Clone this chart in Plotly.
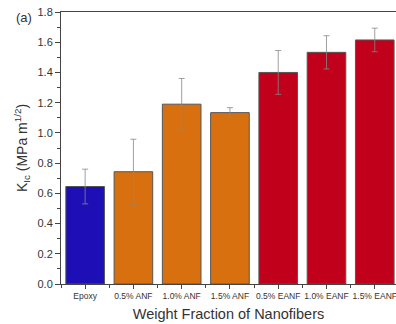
import plotly.graph_objects as go

categories = ["Epoxy", "0.5% ANF", "1.0% ANF", "1.5% ANF", "0.5% EANF", "1.0% EANF", "1.5% EANF"]
kic_values = [0.645, 0.743, 1.19, 1.134, 1.40, 1.533, 1.615]
kic_errors = [0.115, 0.215, 0.17, 0.033, 0.145, 0.11, 0.078]
bar_colors = ["#1d0fb5", "#d8700f", "#d8700f", "#d8700f", "#c1001b", "#c1001b", "#c1001b"]
y_ticks = [0.0, 0.2, 0.4, 0.6, 0.8, 1.0, 1.2, 1.4, 1.6, 1.8]

xpos = list(range(len(categories)))

fig = go.Figure()
fig.add_trace(go.Bar(
    x=xpos, y=kic_values, width=0.8,
    marker=dict(color=bar_colors, line=dict(color="#555555", width=1)),
    error_y=dict(type="data", array=kic_errors, color="#888888", thickness=0.8, width=3),
))

fig.update_layout(
    width=396, height=324,
    margin=dict(l=61, r=0, t=12, b=40),
    plot_bgcolor="white", paper_bgcolor="white",
    showlegend=False,
    font=dict(family="Liberation Sans, Arial, sans-serif", color="#333333"),
    xaxis=dict(
        range=[-0.5, 6.44],
        tickmode="array", tickvals=xpos, ticktext=categories,
        tickfont=dict(size=8.5, color="#333333"),
        ticklabeloverflow="allow",
        ticks="outside", ticklen=4, tickcolor="#444444",
        showline=True, linecolor="#444444", linewidth=1, mirror=True,
        showgrid=False, zeroline=False,
        minor=dict(tickvals=[i + 0.5 for i in range(-1, 7)], ticks="outside", ticklen=3, tickcolor="#444444"),
        title=dict(text="Weight Fraction of Nanofibers", font=dict(size=14.5, color="#333333"), standoff=8),
    ),
    yaxis=dict(
        range=[0, 1.8],
        tickmode="array", tickvals=y_ticks, ticktext=[f"{v:.1f}" for v in y_ticks],
        tickfont=dict(size=11, color="#333333"),
        ticks="outside", ticklen=5, tickcolor="#444444",
        showline=True, linecolor="#444444", linewidth=1, mirror=False,
        showgrid=False, zeroline=False,
        minor=dict(dtick=0.1, ticks="outside", ticklen=3, tickcolor="#444444"),
        title=dict(text="K<sub>Ic</sub> (MPa m<sup>1/2</sup>)", font=dict(size=14, color="#333333"), standoff=6),
    ),
    annotations=[dict(text="(a)", xref="paper", yref="paper", x=-0.14, y=0.98,
                      xanchor="left", yanchor="middle", showarrow=False,
                      font=dict(size=13, color="#333333"))],
)

fig.write_html("out.html", config={"displayModeBar": False},
               post_script="document.body.style.margin='0';document.body.style.overflow='hidden';")
